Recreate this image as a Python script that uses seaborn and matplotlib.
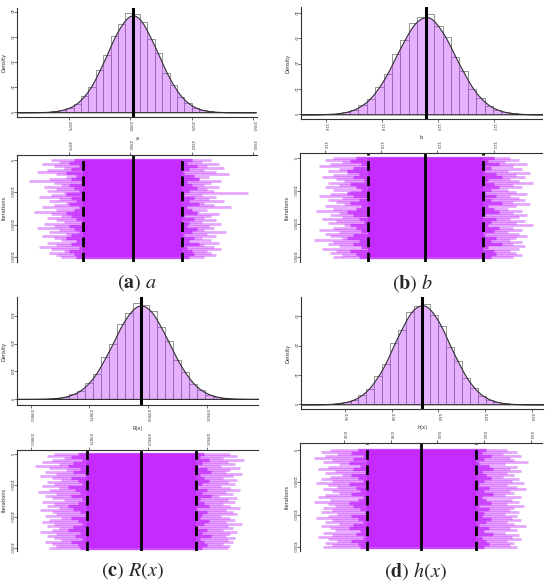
import numpy as np
import pandas as pd
import matplotlib
matplotlib.use("Agg")
import matplotlib.pyplot as plt
import seaborn as sns

# ---- data ----
# histogram bar heights (density), bins centred on the posterior mean
a_hist = [0.05, 0.12, 0.36, 0.85, 1.8, 3.3, 6.6, 10.2, 16.9, 22.6, 30.4, 35.1, 39.4,
          39.3, 35.8, 29.2, 23.5, 15.8, 10.9, 6.1, 3.6, 1.6, 0.85, 0.3, 0.14, 0.04]
b_hist = [0.04, 0.14, 0.31, 0.82, 1.65, 3.6, 6.1, 10.9, 15.8, 23.6, 29.2, 36.1, 38.2,
          39.6, 34.8, 30.5, 22.4, 16.9, 10.1, 6.5, 3.2, 1.8, 0.74, 0.35, 0.12, 0.05]
r_hist = [0.5, 1.0, 3.2, 6.5, 16.0, 29.0, 58.0, 91.0, 150.0, 199.0, 270.0, 309.0, 347.0,
          340.0, 318.0, 259.0, 208.0, 140.0, 97.0, 53.0, 32.0, 14.5, 7.5, 2.6, 1.2, 0.4]
h_hist = [0.05, 0.1, 0.32, 0.75, 1.4, 3.2, 5.3, 9.6, 13.6, 20.8, 25.4, 31.5, 33.3,
          34.2, 30.4, 26.6, 19.5, 14.7, 8.9, 5.7, 2.8, 1.6, 0.62, 0.3, 0.09, 0.05]

a_bin0, a_binw = 2.862, 0.003
b_bin0, b_binw = 1.1567, 0.003
r_bin0, r_binw = 0.98528, 0.00034
h_bin0, h_binw = 0.3488, 0.0034

# posterior mean and 95% interval
a_mean, a_lo95, a_hi95 = 2.901, 2.8808, 2.9211
b_mean, b_lo95, b_hi95 = 1.1957, 1.1752, 1.2163
r_mean, r_lo95, r_hi95 = 0.9897, 0.98739, 0.99202
h_mean, h_lo95, h_hi95 = 0.393, 0.370, 0.4166

# trace plots: leftmost / rightmost excursion per block of iterations
a_trace_lo = [2.868, 2.871, 2.864, 2.869, 2.873, 2.866, 2.862, 2.870, 2.874, 2.867, 2.859, 2.869,
              2.872, 2.865, 2.870, 2.866, 2.873, 2.868, 2.863, 2.871, 2.867, 2.874, 2.869, 2.864,
              2.870, 2.861, 2.868, 2.872, 2.866, 2.870, 2.873, 2.865, 2.869, 2.862, 2.871, 2.867,
              2.874, 2.864, 2.869, 2.872, 2.866, 2.870, 2.863, 2.868, 2.873, 2.867, 2.870, 2.872]
a_trace_hi = [2.933, 2.929, 2.936, 2.931, 2.938, 2.930, 2.935, 2.940, 2.932, 2.928, 2.937, 2.933,
              2.930, 2.936, 2.931, 2.934, 2.948, 2.929, 2.935, 2.932, 2.938, 2.930, 2.934, 2.941,
              2.931, 2.928, 2.936, 2.933, 2.930, 2.935, 2.929, 2.937, 2.932, 2.934, 2.930, 2.939,
              2.931, 2.935, 2.929, 2.933, 2.936, 2.930, 2.934, 2.937, 2.931, 2.933, 2.935, 2.930]
b_trace_lo = [1.163, 1.160, 1.166, 1.162, 1.158, 1.165, 1.161, 1.168, 1.163, 1.159, 1.164, 1.167,
              1.161, 1.165, 1.160, 1.163, 1.169, 1.162, 1.158, 1.166, 1.161, 1.164, 1.167, 1.160,
              1.163, 1.157, 1.165, 1.162, 1.166, 1.159, 1.164, 1.161, 1.167, 1.163, 1.158, 1.165,
              1.160, 1.162, 1.166, 1.156, 1.163, 1.161, 1.165, 1.159, 1.164, 1.162, 1.166, 1.163]
b_trace_hi = [1.226, 1.229, 1.224, 1.232, 1.227, 1.230, 1.225, 1.233, 1.228, 1.231, 1.226, 1.229,
              1.234, 1.227, 1.230, 1.225, 1.228, 1.232, 1.226, 1.229, 1.231, 1.227, 1.233, 1.228,
              1.225, 1.230, 1.227, 1.232, 1.229, 1.226, 1.231, 1.228, 1.234, 1.227, 1.230, 1.225,
              1.229, 1.232, 1.228, 1.226, 1.230, 1.227, 1.231, 1.229, 1.226, 1.228, 1.230, 1.227]
r_trace_lo = [0.9860, 0.9857, 0.9864, 0.9859, 0.9855, 0.9862, 0.9852, 0.9858, 0.9865, 0.9856,
              0.9861, 0.9854, 0.9859, 0.9863, 0.9857, 0.9860, 0.9855, 0.9862, 0.9858, 0.9853,
              0.9861, 0.9856, 0.9859, 0.9864, 0.9855, 0.9860, 0.9857, 0.9862, 0.9854, 0.9859,
              0.9861, 0.9856, 0.9863, 0.9858, 0.9855, 0.9860, 0.9857, 0.9862, 0.9859, 0.9854,
              0.9861, 0.9857, 0.9860, 0.9863, 0.9856, 0.9859, 0.9861, 0.9858]
r_trace_hi = [0.9935, 0.9938, 0.9932, 0.9941, 0.9934, 0.9937, 0.9931, 0.9939, 0.9935, 0.9933,
              0.9940, 0.9936, 0.9932, 0.9938, 0.9934, 0.9937, 0.9931, 0.9935, 0.9939, 0.9933,
              0.9936, 0.9930, 0.9938, 0.9934, 0.9937, 0.9932, 0.9935, 0.9939, 0.9933, 0.9936,
              0.9938, 0.9931, 0.9935, 0.9937, 0.9933, 0.9940, 0.9934, 0.9936, 0.9932, 0.9938,
              0.9935, 0.9933, 0.9937, 0.9934, 0.9936, 0.9932, 0.9935, 0.9934]
h_trace_lo = [0.354, 0.350, 0.357, 0.352, 0.347, 0.355, 0.351, 0.358, 0.353, 0.349, 0.356, 0.352,
              0.359, 0.354, 0.350, 0.355, 0.348, 0.353, 0.357, 0.351, 0.355, 0.358, 0.352, 0.349,
              0.354, 0.347, 0.353, 0.356, 0.351, 0.355, 0.350, 0.357, 0.353, 0.348, 0.355, 0.352,
              0.358, 0.350, 0.354, 0.356, 0.351, 0.355, 0.349, 0.353, 0.357, 0.352, 0.355, 0.351]
h_trace_hi = [0.430, 0.434, 0.428, 0.436, 0.431, 0.433, 0.439, 0.429, 0.434, 0.431, 0.436, 0.430,
              0.433, 0.428, 0.435, 0.432, 0.437, 0.430, 0.434, 0.438, 0.431, 0.433, 0.429, 0.436,
              0.432, 0.435, 0.430, 0.437, 0.433, 0.431, 0.435, 0.429, 0.434, 0.432, 0.436, 0.430,
              0.433, 0.438, 0.431, 0.434, 0.429, 0.435, 0.432, 0.436, 0.430, 0.433, 0.431, 0.434]

# the dense part of each trace, just outside the 95% interval
a_dense_lo = [2.877, 2.875, 2.879, 2.876, 2.874, 2.878, 2.876, 2.880, 2.875, 2.877, 2.879, 2.874,
              2.876, 2.878, 2.875, 2.879, 2.877, 2.874, 2.876, 2.878, 2.880, 2.875, 2.877, 2.879,
              2.876, 2.874, 2.878, 2.876, 2.879, 2.875, 2.877, 2.878]
a_dense_hi = [2.925, 2.923, 2.927, 2.924, 2.922, 2.926, 2.928, 2.923, 2.925, 2.927, 2.924, 2.922,
              2.926, 2.924, 2.928, 2.923, 2.925, 2.927, 2.922, 2.926, 2.924, 2.923, 2.927, 2.925,
              2.922, 2.926, 2.924, 2.928, 2.923, 2.925, 2.926, 2.924]
b_dense_lo = [1.171, 1.169, 1.173, 1.170, 1.168, 1.172, 1.170, 1.174, 1.169, 1.171, 1.173, 1.168,
              1.170, 1.172, 1.169, 1.173, 1.171, 1.168, 1.170, 1.172, 1.174, 1.169, 1.171, 1.173,
              1.170, 1.168, 1.172, 1.170, 1.173, 1.169, 1.171, 1.172]
b_dense_hi = [1.220, 1.218, 1.222, 1.219, 1.217, 1.221, 1.223, 1.218, 1.220, 1.222, 1.219, 1.217,
              1.221, 1.219, 1.223, 1.218, 1.220, 1.222, 1.217, 1.221, 1.219, 1.218, 1.222, 1.220,
              1.217, 1.221, 1.219, 1.223, 1.218, 1.220, 1.221, 1.219]
r_dense_lo = [0.9870, 0.9867, 0.9872, 0.9868, 0.9866, 0.9871, 0.9868, 0.9873, 0.9867, 0.9870,
              0.9872, 0.9866, 0.9869, 0.9871, 0.9867, 0.9872, 0.9870, 0.9866, 0.9868, 0.9871,
              0.9873, 0.9867, 0.9870, 0.9872, 0.9868, 0.9866, 0.9871, 0.9869, 0.9872, 0.9867,
              0.9870, 0.9871]
r_dense_hi = [0.9924, 0.9922, 0.9926, 0.9923, 0.9921, 0.9925, 0.9927, 0.9922, 0.9924, 0.9926,
              0.9923, 0.9921, 0.9925, 0.9923, 0.9927, 0.9922, 0.9924, 0.9926, 0.9921, 0.9925,
              0.9923, 0.9922, 0.9926, 0.9924, 0.9921, 0.9925, 0.9923, 0.9927, 0.9922, 0.9924,
              0.9925, 0.9923]
h_dense_lo = [0.366, 0.363, 0.368, 0.364, 0.362, 0.367, 0.364, 0.369, 0.363, 0.366, 0.368, 0.362,
              0.365, 0.367, 0.363, 0.368, 0.366, 0.362, 0.364, 0.367, 0.369, 0.363, 0.366, 0.368,
              0.364, 0.362, 0.367, 0.365, 0.368, 0.363, 0.366, 0.367]
h_dense_hi = [0.421, 0.419, 0.423, 0.420, 0.418, 0.422, 0.424, 0.419, 0.421, 0.423, 0.420, 0.418,
              0.422, 0.420, 0.424, 0.419, 0.421, 0.423, 0.418, 0.422, 0.420, 0.419, 0.423, 0.421,
              0.418, 0.422, 0.420, 0.424, 0.419, 0.421, 0.422, 0.420]

n_iter = 30000

a_ticks = [2.875, 2.900, 2.925, 2.950]
b_ticks = [1.16, 1.18, 1.20, 1.22]
r_ticks = [0.9850, 0.9875, 0.9900, 0.9925]
h_ticks = [0.36, 0.38, 0.40, 0.42, 0.44]
a_ticklabels = ["2.875", "2.900", "2.925", "2.950"]
b_ticklabels = ["1.16", "1.18", "1.20", "1.22"]
r_ticklabels = ["0.9850", "0.9875", "0.9900", "0.9925"]
h_ticklabels = ["0.36", "0.38", "0.40", "0.42", "0.44"]
iter_ticks = [0, 10000, 20000, 30000]

# ---- style ----
sns.set_theme(style="ticks")
plt.rcParams["font.family"] = ["DejaVu Sans"]
plt.rcParams["mathtext.fontset"] = "stix"

HIST_FILL = (0.749, 0.243, 1.0, 0.4)   # darkorchid1, 40 %
TRACE_COL = "#c52bff"
SPINE_COL = "#333333"
W, H = 550, 587

fig = plt.figure(figsize=(5.5, 5.87), dpi=100)


def box(l, t, r, b):
    return [l / W, 1 - b / H, (r - l) / W, (b - t) / H]


def style_axes(ax, keep):
    for side in ["left", "right", "top", "bottom"]:
        ax.spines[side].set_visible(side in keep)
        ax.spines[side].set_color(SPINE_COL)
        ax.spines[side].set_linewidth(0.8)
    ax.tick_params(length=2, width=0.5, labelsize=2.6, pad=1, colors=SPINE_COL)


def draw_panel(hbox, tbox, heights, bin0, binw, mean, lo95, hi95, tr_lo, tr_hi,
               dn_lo, dn_hi, xlim, hylim, hyticks, tylim, ticks, ticklabels,
               xlabel, caption, cap_xy):
    # histogram + density
    ax = fig.add_axes(box(*hbox))
    nb = len(heights)
    centers = bin0 + binw * (np.arange(nb) + 0.5)
    df = pd.DataFrame({"value": centers, "dens": heights})
    sns.histplot(data=df, x="value", weights="dens", binwidth=binw,
                 binrange=(bin0, bin0 + nb * binw), color="white",
                 edgecolor="#6a6a6a", linewidth=0.5, alpha=1, ax=ax)
    sns.kdeplot(data=df, x="value", weights="dens", bw_adjust=0.35, fill=True,
                facecolor=HIST_FILL, edgecolor="#303030", linewidth=0.8, ax=ax)
    ax.axvline(mean, color="black", lw=2.2)
    ax.set_xlim(xlim)
    ax.set_ylim(hylim)
    ax.set_xticks(ticks, ticklabels, rotation=270)
    ax.set_yticks(hyticks, [str(t) for t in hyticks], rotation=270, va="center")
    ax.set_xlabel(xlabel, fontsize=3.6, labelpad=3)
    ax.set_ylabel("Density", fontsize=3.6, labelpad=2)
    style_axes(ax, ["left", "bottom"])

    # trace plot, iterations running downwards
    axt = fig.add_axes(box(*tbox))
    iters = np.linspace(0, n_iter, len(tr_lo))
    axt.hlines(iters, tr_lo, tr_hi, color=TRACE_COL, alpha=0.42, lw=2.0)
    iters_d = np.linspace(0, n_iter, len(dn_lo))
    axt.hlines(iters_d, dn_lo, dn_hi, color=TRACE_COL, alpha=0.75, lw=2.4)
    axt.fill_betweenx([0, n_iter], lo95, hi95, color=TRACE_COL, lw=0)
    axt.axvline(mean, color="black", lw=2)
    axt.axvline(lo95, color="black", lw=2, ls=(0, (3.5, 2)))
    axt.axvline(hi95, color="black", lw=2, ls=(0, (3.5, 2)))
    axt.set_xlim(xlim)
    axt.set_ylim(tylim)
    axt.xaxis.tick_top()
    axt.set_xticks(ticks, ticklabels, rotation=270)
    axt.set_yticks(iter_ticks, [str(t) for t in iter_ticks], rotation=270, va="center")
    axt.set_ylabel("Iterations", fontsize=3.6, labelpad=2)
    style_axes(axt, ["left", "top"])

    fig.text(cap_xy[0] / W, 1 - cap_xy[1] / H, caption, ha="center", va="center",
             fontsize=14.5)


draw_panel((17, 8, 257, 117), (17, 155, 257, 262), a_hist, a_bin0, a_binw,
           a_mean, a_lo95, a_hi95, a_trace_lo, a_trace_hi, a_dense_lo, a_dense_hi,
           (2.854, 2.9515), (-1.9, 41.5), [0, 10, 20, 30, 40], (31550, -1550),
           a_ticks, a_ticklabels, "a", r"$(\mathbf{a})\ a$", (137, 283))
draw_panel((301, 7, 542, 119), (300, 153, 542, 262), b_hist, b_bin0, b_binw,
           b_mean, b_lo95, b_hi95, b_trace_lo, b_trace_hi, b_dense_lo, b_dense_hi,
           (1.1512, 1.2372), (-1.85, 42.3), [0, 10, 20, 30, 40], (31515, -1515),
           b_ticks, b_ticklabels, "b", r"$(\mathbf{b})\ b$", (412, 283))
draw_panel((17, 297, 258, 405), (17, 450, 258, 551), r_hist, r_bin0, r_binw,
           r_mean, r_lo95, r_hi95, r_trace_lo, r_trace_hi, r_dense_lo, r_dense_hi,
           (0.98442, 0.99468), (-22, 368), [0, 100, 200, 300], (30957, -1277),
           r_ticks, r_ticklabels, "R(x)", r"$(\mathbf{c})\ R(x)$", (132, 571))
draw_panel((301, 297, 543, 409), (300, 443, 542, 551), h_hist, h_bin0, h_binw,
           h_mean, h_lo95, h_hi95, h_trace_lo, h_trace_hi, h_dense_lo, h_dense_hi,
           (0.3412, 0.4448), (-1.6, 36.5), [0, 10, 20, 30], (31237, -2165),
           h_ticks, h_ticklabels, "h(x)", r"$(\mathbf{d})\ h(x)$", (415, 571))

fig.savefig("out.png", dpi=100)
